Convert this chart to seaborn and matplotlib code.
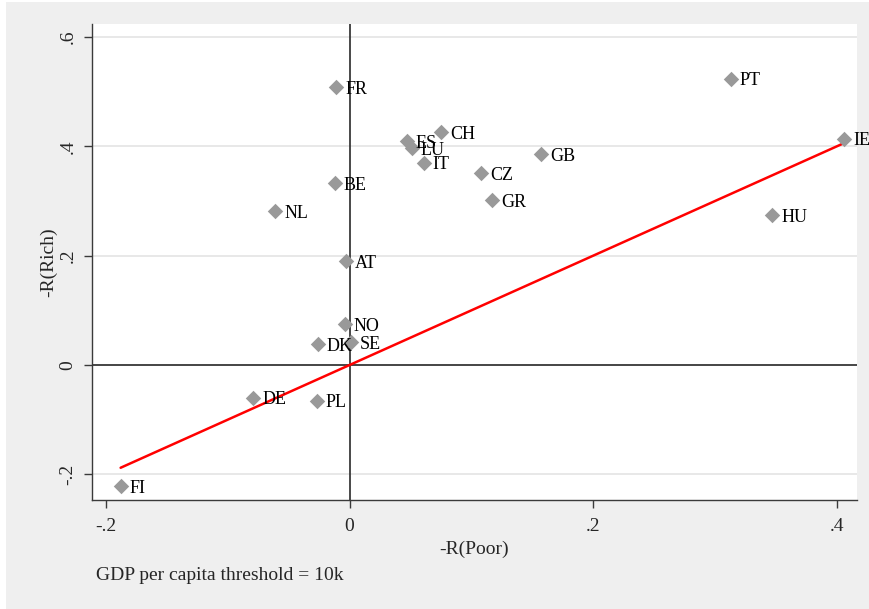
import numpy as np
import pandas as pd
import matplotlib
matplotlib.use("Agg")
import matplotlib.pyplot as plt
import seaborn as sns
from matplotlib.ticker import FuncFormatter, FixedLocator

countries = ["FR", "PT", "CH", "ES", "LU", "IT", "GB", "CZ", "GR", "IE",
             "HU", "BE", "NL", "AT", "NO", "DK", "SE", "DE", "PL", "FI"]
r_poor = [-0.011, 0.313, 0.075, 0.047, 0.051, 0.061, 0.157, 0.108, 0.117, 0.406,
          0.347, -0.012, -0.061, -0.003, -0.004, -0.026, 0.001, -0.079, -0.027, -0.188]
r_rich = [0.508, 0.524, 0.426, 0.410, 0.397, 0.370, 0.386, 0.351, 0.302, 0.414,
          0.274, 0.333, 0.281, 0.190, 0.075, 0.038, 0.042, -0.060, -0.065, -0.222]
x_ticks = [-0.2, 0.0, 0.2, 0.4]
y_ticks = [-0.2, 0.0, 0.2, 0.4, 0.6]
x_label = "-R(Poor)"
y_label = "-R(Rich)"
note = "GDP per capita threshold = 10k"

df = pd.DataFrame({"country": countries, "poor": r_poor, "rich": r_rich})
line_x = [df["poor"].min(), df["poor"].max()]
line_df = pd.DataFrame({"x": line_x, "y": line_x})

sns.set_style("white")
plt.rcParams["font.family"] = ["Liberation Serif", "DejaVu Serif"]

fig = plt.figure(figsize=(8.7, 6.09), dpi=100, facecolor="white")
bg = matplotlib.patches.Rectangle((6 / 870, 0), 1, 1 - 2 / 609, transform=fig.transFigure,
                                  facecolor="#efefef", edgecolor="none", zorder=-10)
fig.patches.append(bg)
ax = fig.add_axes([92 / 870, 1 - 500 / 609, (857 - 92) / 870, (500 - 24) / 609])
ax.set_facecolor("white")

ax.set_xlim(-0.2115, 0.4167)
ax.set_ylim(-0.247, 0.624)

# grid
ax.yaxis.set_major_locator(FixedLocator(y_ticks))
ax.xaxis.set_major_locator(FixedLocator(x_ticks))
ax.yaxis.grid(True, color="#e6e6e6", lw=1.3, zorder=0)
ax.xaxis.grid(False)
ax.set_axisbelow(True)

ax.axhline(0, color="#3a3a3a", lw=1.3, zorder=1)
ax.axvline(0, color="#3a3a3a", lw=1.3, zorder=1)

sns.lineplot(data=line_df, x="x", y="y", ax=ax, color="red", lw=1.8, zorder=3)
sns.scatterplot(data=df, x="poor", y="rich", ax=ax, marker="D", s=62,
                color="#999999", linewidth=0, zorder=4)

for _, r in df.iterrows():
    ax.annotate(r["country"], (r["poor"], r["rich"]), xytext=(6.5, -1.5),
                textcoords="offset points", va="center", ha="left",
                fontsize=13, color="black", zorder=5)

def fmt(v, pos):
    if abs(v) < 1e-9:
        return "0"
    s = f"{v:.1f}"
    return s.replace("0.", ".")

ax.xaxis.set_major_formatter(FuncFormatter(fmt))
ax.yaxis.set_major_formatter(FuncFormatter(fmt))

for sp in ["top", "right"]:
    ax.spines[sp].set_visible(False)
for sp in ["left", "bottom"]:
    ax.spines[sp].set_color("#3a3a3a")
    ax.spines[sp].set_linewidth(1.0)

ax.tick_params(axis="x", direction="out", length=6, width=1.0, color="#3a3a3a",
               labelsize=14, pad=7, bottom=True)
ax.tick_params(axis="y", direction="out", length=6, width=1.0, color="#3a3a3a",
               labelsize=14, pad=5, left=True)
for lab in ax.get_yticklabels():
    lab.set_rotation(90)
    lab.set_va("center")

ax.set_xlabel(x_label, fontsize=14, labelpad=4)
ax.set_ylabel(y_label, fontsize=14, labelpad=2)

fig.text(96 / 870, 1 - 576 / 609, note, fontsize=14, ha="left", va="center")

fig.savefig("out.png", dpi=100, facecolor=fig.get_facecolor())
